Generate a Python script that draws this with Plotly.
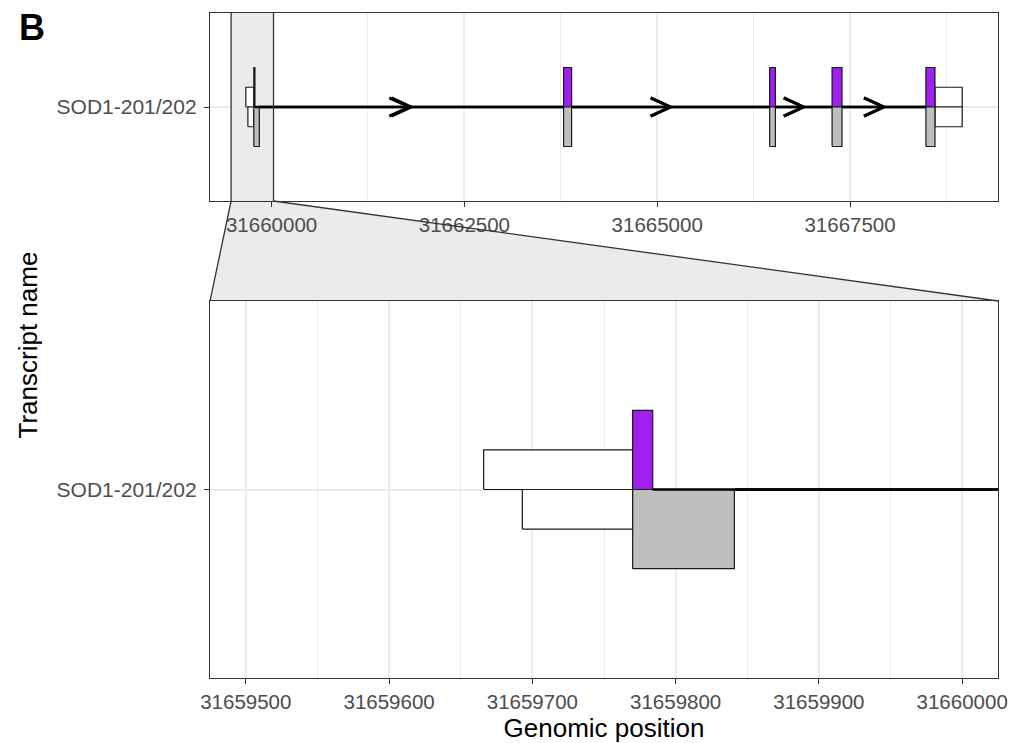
import plotly.graph_objects as go

# ---------------- data ----------------
transcript_label = "SOD1-201/202"

# transcript SOD1-201 (drawn upwards)
t201_utr_start = [31659666, 31668601]
t201_utr_end = [31659770, 31668954]
t201_cds_start = [31659770, 31663786, 31666458, 31667267, 31668484]
t201_cds_end = [31659784, 31663890, 31666532, 31667396, 31668601]

# transcript SOD1-202 (drawn downwards)
t202_utr_start = [31659693, 31668601]
t202_utr_end = [31659770, 31668954]
t202_cds_start = [31659770, 31663786, 31666458, 31667267, 31668484]
t202_cds_end = [31659841, 31663890, 31666532, 31667396, 31668601]

zoom_window = [31659500, 31660000]

top_ticks = [31660000, 31662500, 31665000, 31667500]
bottom_ticks = [31659500, 31659600, 31659700, 31659800, 31659900, 31660000]

CDS_COLOR_201 = "#A020F0"
CDS_COLOR_202 = "#BEBEBE"
UTR_COLOR = "#FFFFFF"
GRID = "#EBEBEB"
FRAME = "#333333"
TICKTXT = "#4D4D4D"
FONT = "Liberation Sans, Arial, sans-serif"

# ---------------- helpers ----------------
def rect_path(starts, ends, y0, y1):
    xs, ys = [], []
    for s, e in zip(starts, ends):
        xs += [s, e, e, s, s, None]
        ys += [y0, y0, y1, y1, y0, None]
    return xs, ys


def introns(cds_s, cds_e, utr_s, utr_e):
    blocks = sorted(zip(cds_s + utr_s, cds_e + utr_e))
    merged = []
    for s, e in blocks:
        if merged and s <= merged[-1][1]:
            merged[-1][1] = max(merged[-1][1], e)
        else:
            merged.append([s, e])
    return [(merged[i][1], merged[i + 1][0]) for i in range(len(merged) - 1)]


all_x = t201_utr_start + t201_utr_end + t202_utr_start + t202_utr_end + \
    t201_cds_start + t201_cds_end + t202_cds_start + t202_cds_end
lo, hi = min(all_x), max(all_x)
span = hi - lo
top_range = [lo - 0.05 * span, hi + 0.05 * span]
zspan = zoom_window[1] - zoom_window[0]
bot_range = [zoom_window[0] - 0.05 * zspan, zoom_window[1] + 0.05 * zspan]
y_range = [-2.38, 2.38]

plot_w = 788
# chevron size (pixels converted to data units of the top axis)
chev_dx = 20 / plot_w * (top_range[1] - top_range[0])
chev_dy = 0.23

fig = go.Figure()

for xa, ya in [("x", "y"), ("x2", "y2")]:
    # UTRs
    for us, ue, y0, y1 in [(t201_utr_start, t201_utr_end, 0, 0.5),
                           (t202_utr_start, t202_utr_end, -0.5, 0)]:
        xs, ys = rect_path(us, ue, y0, y1)
        fig.add_trace(go.Scatter(x=xs, y=ys, mode="lines", fill="toself",
                                 fillcolor=UTR_COLOR,
                                 line=dict(color="#1A1A1A", width=1.2),
                                 xaxis=xa, yaxis=ya, showlegend=False,
                                 hoverinfo="skip"))
    # CDS
    for cs, ce, y0, y1, col in [(t201_cds_start, t201_cds_end, 0, 1, CDS_COLOR_201),
                                (t202_cds_start, t202_cds_end, -1, 0, CDS_COLOR_202)]:
        xs, ys = rect_path(cs, ce, y0, y1)
        fig.add_trace(go.Scatter(x=xs, y=ys, mode="lines", fill="toself",
                                 fillcolor=col,
                                 line=dict(color="#1A1A1A", width=1.2),
                                 xaxis=xa, yaxis=ya, showlegend=False,
                                 hoverinfo="skip"))
    # introns + chevrons
    for cs, ce, us, ue in [(t201_cds_start, t201_cds_end, t201_utr_start, t201_utr_end),
                           (t202_cds_start, t202_cds_end, t202_utr_start, t202_utr_end)]:
        ints = introns(cs, ce, us, ue)
        lx, ly, ax, ay = [], [], [], []
        for s, e in ints:
            lx += [s, e, None]
            ly += [0, 0, None]
            m = (s + e) / 2
            ax += [m - chev_dx, m, m - chev_dx, None]
            ay += [chev_dy, 0, -chev_dy, None]
        fig.add_trace(go.Scatter(x=lx, y=ly, mode="lines",
                                 line=dict(color="black", width=2.7),
                                 xaxis=xa, yaxis=ya, showlegend=False,
                                 hoverinfo="skip"))
        fig.add_trace(go.Scatter(x=ax, y=ay, mode="lines",
                                 line=dict(color="black", width=3),
                                 xaxis=xa, yaxis=ya, showlegend=False,
                                 hoverinfo="skip"))

top_dom = [0.7173, 1.0]
bot_dom = [0.0, 0.5669]

axis_common = dict(showline=True, mirror=True, linecolor=FRAME, linewidth=1.3,
                   ticks="outside", ticklen=5, tickwidth=1.3, tickcolor=FRAME,
                   tickfont=dict(family=FONT, size=20.5, color=TICKTXT),
                   showgrid=True, gridcolor=GRID, gridwidth=1.6, zeroline=False,
                   automargin=False)

y_common = dict(axis_common)
y_common["tickfont"] = dict(family=FONT, size=21, color=TICKTXT)
y_common["ticklabelstandoff"] = 3

fig.update_layout(
    width=1014, height=743,
    margin=dict(l=210, r=16, t=13, b=65),
    paper_bgcolor="white", plot_bgcolor="white",
    font=dict(family=FONT),
    xaxis=dict(domain=[0, 1], anchor="y", range=top_range,
               tickmode="array", tickvals=top_ticks,
               ticktext=[str(v) for v in top_ticks],
               minor=dict(dtick=1250, tick0=31660000, showgrid=True,
                          gridcolor=GRID, gridwidth=0.8),
               **axis_common),
    yaxis=dict(domain=top_dom, anchor="x", range=y_range,
               tickmode="array", tickvals=[0], ticktext=[transcript_label],
               **y_common),
    xaxis2=dict(domain=[0, 1], anchor="y2", range=bot_range,
                tickmode="array", tickvals=bottom_ticks,
                ticktext=[str(v) for v in bottom_ticks],
                minor=dict(dtick=50, tick0=31659500, showgrid=True,
                           gridcolor=GRID, gridwidth=0.8),
                title=dict(text="Genomic position", standoff=6,
                           font=dict(family=FONT, size=26, color="black")),
                **axis_common),
    yaxis2=dict(domain=bot_dom, anchor="x2", range=y_range,
                tickmode="array", tickvals=[0], ticktext=[transcript_label],
                **y_common),
)

# zoom indicator
f0 = (bot_range[0] - top_range[0]) / (top_range[1] - top_range[0])
f1 = (bot_range[1] - top_range[0]) / (top_range[1] - top_range[0])
shapes = [
    dict(type="rect", xref="x", yref="y domain", x0=bot_range[0], x1=bot_range[1],
         y0=0, y1=1, fillcolor=GRID, line=dict(width=0), layer="below"),
    dict(type="path", xref="paper", yref="paper",
         path=f"M {f0},{top_dom[0]} L {f1},{top_dom[0]} L 1,{bot_dom[1]} L 0,{bot_dom[1]} Z",
         fillcolor=GRID, line=dict(width=0), layer="below"),
    dict(type="line", xref="x", yref="y domain", x0=bot_range[0], x1=bot_range[0],
         y0=0, y1=1, line=dict(color=FRAME, width=1.3), layer="above"),
    dict(type="line", xref="x", yref="y domain", x0=bot_range[1], x1=bot_range[1],
         y0=0, y1=1, line=dict(color=FRAME, width=1.3), layer="above"),
    dict(type="line", xref="paper", yref="paper", x0=f0, y0=top_dom[0], x1=0,
         y1=bot_dom[1], line=dict(color=FRAME, width=1.3), layer="above"),
    dict(type="line", xref="paper", yref="paper", x0=f1, y0=top_dom[0], x1=1,
         y1=bot_dom[1], line=dict(color=FRAME, width=1.3), layer="above"),
]
fig.update_layout(shapes=shapes)

fig.add_annotation(text="Transcript name", xref="paper", yref="paper",
                   x=-0.2310, y=0.5015, textangle=-90, showarrow=False,
                   xanchor="center", yanchor="middle",
                   font=dict(family=FONT, size=26, color="black"))
fig.add_annotation(text="<b>B</b>", xref="paper", yref="paper",
                   x=-0.245, y=0.978, showarrow=False,
                   xanchor="left", yanchor="middle",
                   font=dict(family=FONT, size=36, color="black"))

fig.write_html("out.html")
